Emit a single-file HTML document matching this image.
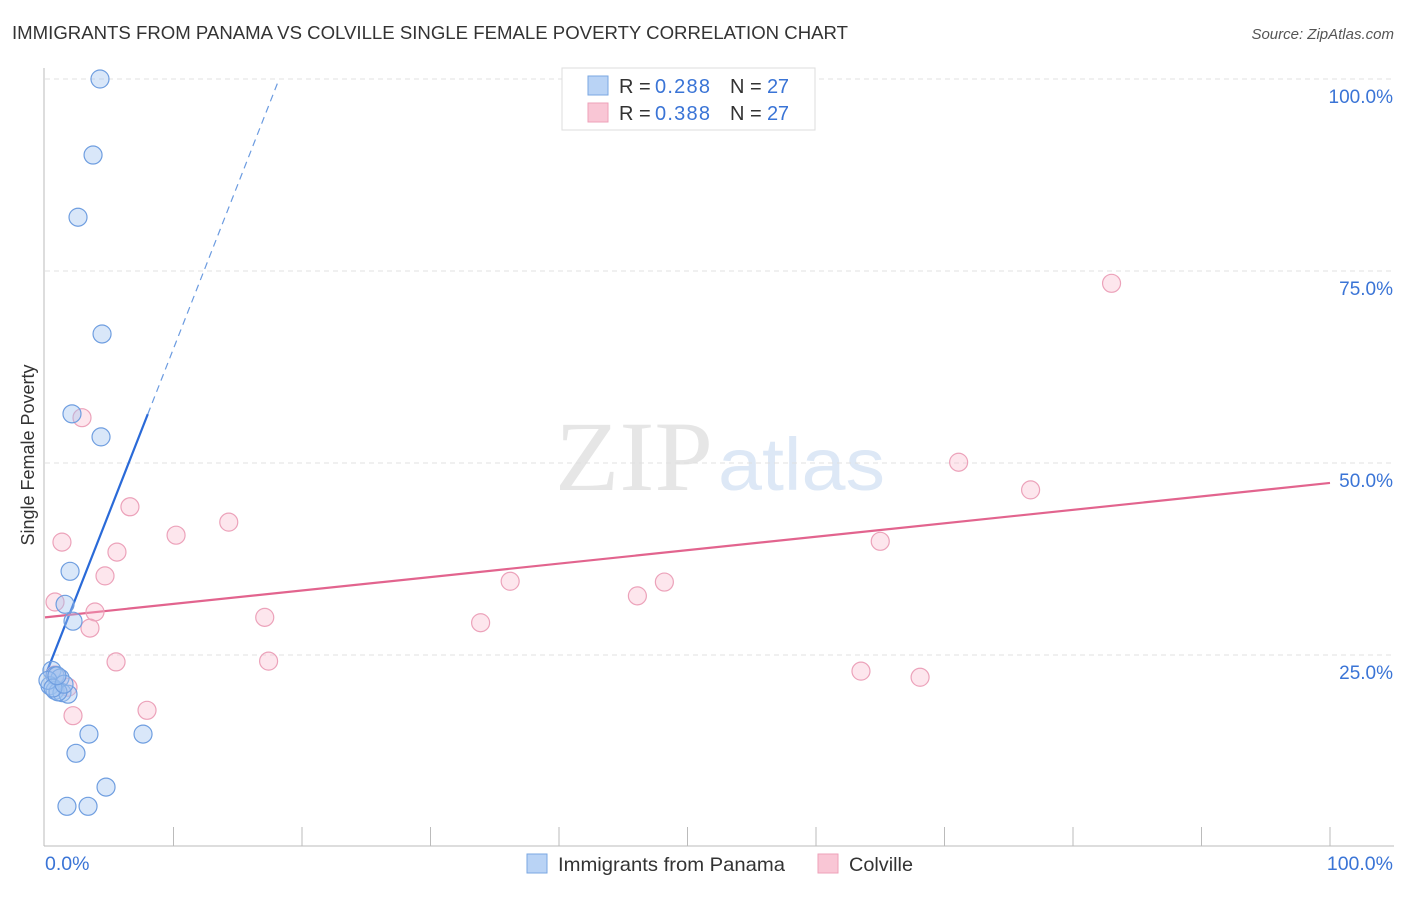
<!DOCTYPE html>
<html><head><meta charset="utf-8"><style>
body{margin:0;background:#fff;font-family:"Liberation Sans",sans-serif;}
</style></head><body>
<svg width="1406" height="892" xmlns="http://www.w3.org/2000/svg" id="chart">
<text x="12" y="39" font-size="18" fill="#333" textLength="836" lengthAdjust="spacingAndGlyphs">IMMIGRANTS FROM PANAMA VS COLVILLE SINGLE FEMALE POVERTY CORRELATION CHART</text>
<text x="1394" y="39" font-size="15" fill="#555" font-style="italic" text-anchor="end">Source: ZipAtlas.com</text>
<text x="555" y="490" font-size="100" fill="#e6e6e6" font-family="Liberation Serif,serif" textLength="158" lengthAdjust="spacingAndGlyphs">ZIP</text>
<text x="718" y="490" font-size="74" fill="#dde8f6" textLength="167" lengthAdjust="spacingAndGlyphs">atlas</text>
<text transform="translate(34,455) rotate(-90)" font-size="18" fill="#333" text-anchor="middle">Single Female Poverty</text>
<g id="grid"></g><g id="axes"></g><g id="lines"></g><g id="pts"></g>
<g>
<rect x="562" y="68" width="253" height="62" fill="#fff" stroke="#ddd"/>
<rect x="588" y="76" width="20" height="19" fill="#b9d3f5" stroke="#7aa7e2"/>
<rect x="588" y="103" width="20" height="19" fill="#f9c6d5" stroke="#eea1b9"/>
<text y="93" font-size="20" fill="#333"><tspan x="619">R =</tspan><tspan x="655" fill="#3a74d6" textLength="55">0.288</tspan><tspan x="730">N =</tspan><tspan x="767" fill="#3a74d6" textLength="22">27</tspan></text>
<text y="120" font-size="20" fill="#333"><tspan x="619">R =</tspan><tspan x="655" fill="#3a74d6" textLength="55">0.388</tspan><tspan x="730">N =</tspan><tspan x="767" fill="#3a74d6" textLength="22">27</tspan></text>
</g>
<g>
<rect x="527" y="854" width="20" height="19" fill="#b9d3f5" stroke="#7aa7e2"/>
<text x="558" y="871" font-size="19.5" fill="#333" textLength="227" lengthAdjust="spacingAndGlyphs">Immigrants from Panama</text>
<rect x="818" y="854" width="20" height="19" fill="#f9c6d5" stroke="#eea1b9"/>
<text x="849" y="871" font-size="19.5" fill="#333" textLength="64" lengthAdjust="spacingAndGlyphs">Colville</text>
</g>
</svg>
<script>
const blueX=[4.28,3.74,2.57,4.44,2.10,4.36,1.95,1.56,2.18,0.54,0.78,1.17,0.39,0.78,1.32,1.79,1.01,3.42,7.63,2.41,4.75,1.71,3.35,0.23,0.62,1.48,0.93];
const blueY=[100,90.1,82.0,66.8,56.4,53.4,35.9,31.6,29.4,23.0,22.3,22.0,21.0,20.4,20.1,19.9,20.2,14.7,14.7,12.2,7.8,5.3,5.3,21.7,20.7,21.2,22.3];
const pinkX=[2.88,6.61,14.3,10.2,1.32,5.60,4.67,0.78,3.89,3.50,17.1,5.53,17.4,1.79,2.18,7.94,36.2,33.9,46.1,48.2,65.0,71.1,76.7,83.0,63.5,68.1,0.78];
const pinkY=[55.9,44.3,42.3,40.6,39.7,38.4,35.3,31.9,30.6,28.5,29.9,24.1,24.2,20.8,17.1,17.8,34.6,29.2,32.7,34.5,39.8,50.1,46.5,73.4,22.9,22.1,22.4];
const yTicks=[25,50,75,100];
const yTickLabels=["25.0%","50.0%","75.0%","100.0%"];
const blueTrend=[22.2,4.27];
const pinkTrend=[29.9,0.175];
const NS="http://www.w3.org/2000/svg";
const sx=v=>45+v*12.85, sy=v=>847-v*7.68;
function mk(t,a,p){const e=document.createElementNS(NS,t);for(const k in a)e.setAttribute(k,a[k]);document.getElementById(p).appendChild(e);return e;}
yTicks.forEach((t,i)=>{
 let l=mk('line',{x1:45,x2:1394,y1:sy(t),y2:sy(t),stroke:'#e0e0e0','stroke-dasharray':'5,4'},'grid');
 
 
 let tx=mk('text',{x:1393,y:sy(t)+24,'font-size':19,fill:'#3a74d6','text-anchor':'end'},'axes');
 tx.textContent=yTickLabels[i];
 
 
});
let ax=mk('line',{x1:44,x2:44,y1:68,y2:846,stroke:'#bbb'},'axes');


let bx=mk('line',{x1:44,x2:1394,y1:846,y2:846,stroke:'#bbb'},'axes');


for(let i=1;i<=10;i++){let t=mk('line',{x1:sx(i*10),x2:sx(i*10),y1:827,y2:846,stroke:'#bbb'},'axes');
 
 }
let x0=mk('text',{x:45,y:870,'font-size':19.5,fill:'#3a74d6'},'axes');x0.textContent='0.0%';


let x1=mk('text',{x:1393,y:870,'font-size':19.5,fill:'#3a74d6','text-anchor':'end'},'axes');x1.textContent='100.0%';


const bEnd=8.0, bMax=(100-blueTrend[0])/blueTrend[1];
let bl=mk('line',{x1:sx(0.15),y1:sy(blueTrend[0]+blueTrend[1]*0.15),x2:sx(bEnd),y2:sy(blueTrend[0]+blueTrend[1]*bEnd),stroke:'#2a6ad8','stroke-width':2.2},'lines');


let bd=mk('line',{x1:sx(bEnd),y1:sy(blueTrend[0]+blueTrend[1]*bEnd),x2:sx(bMax),y2:sy(100),stroke:'#6b9be0','stroke-width':1.2,'stroke-dasharray':'7,5'},'lines');


let pl=mk('line',{x1:sx(0),y1:sy(pinkTrend[0]),x2:sx(100),y2:sy(pinkTrend[0]+pinkTrend[1]*100),stroke:'#e2648e','stroke-width':2.2},'lines');


pinkX.forEach((x,i)=>{let c=mk('circle',{cx:sx(x),cy:sy(pinkY[i]),r:9,fill:'rgba(248,182,202,0.35)',stroke:'#eca2ba','stroke-width':1.2},'pts');
 
 });
blueX.forEach((x,i)=>{let c=mk('circle',{cx:sx(x),cy:sy(blueY[i]),r:9,fill:'rgba(160,196,240,0.4)',stroke:'#6f9ee0','stroke-width':1.2},'pts');
 
 });
</script>
</body></html>
